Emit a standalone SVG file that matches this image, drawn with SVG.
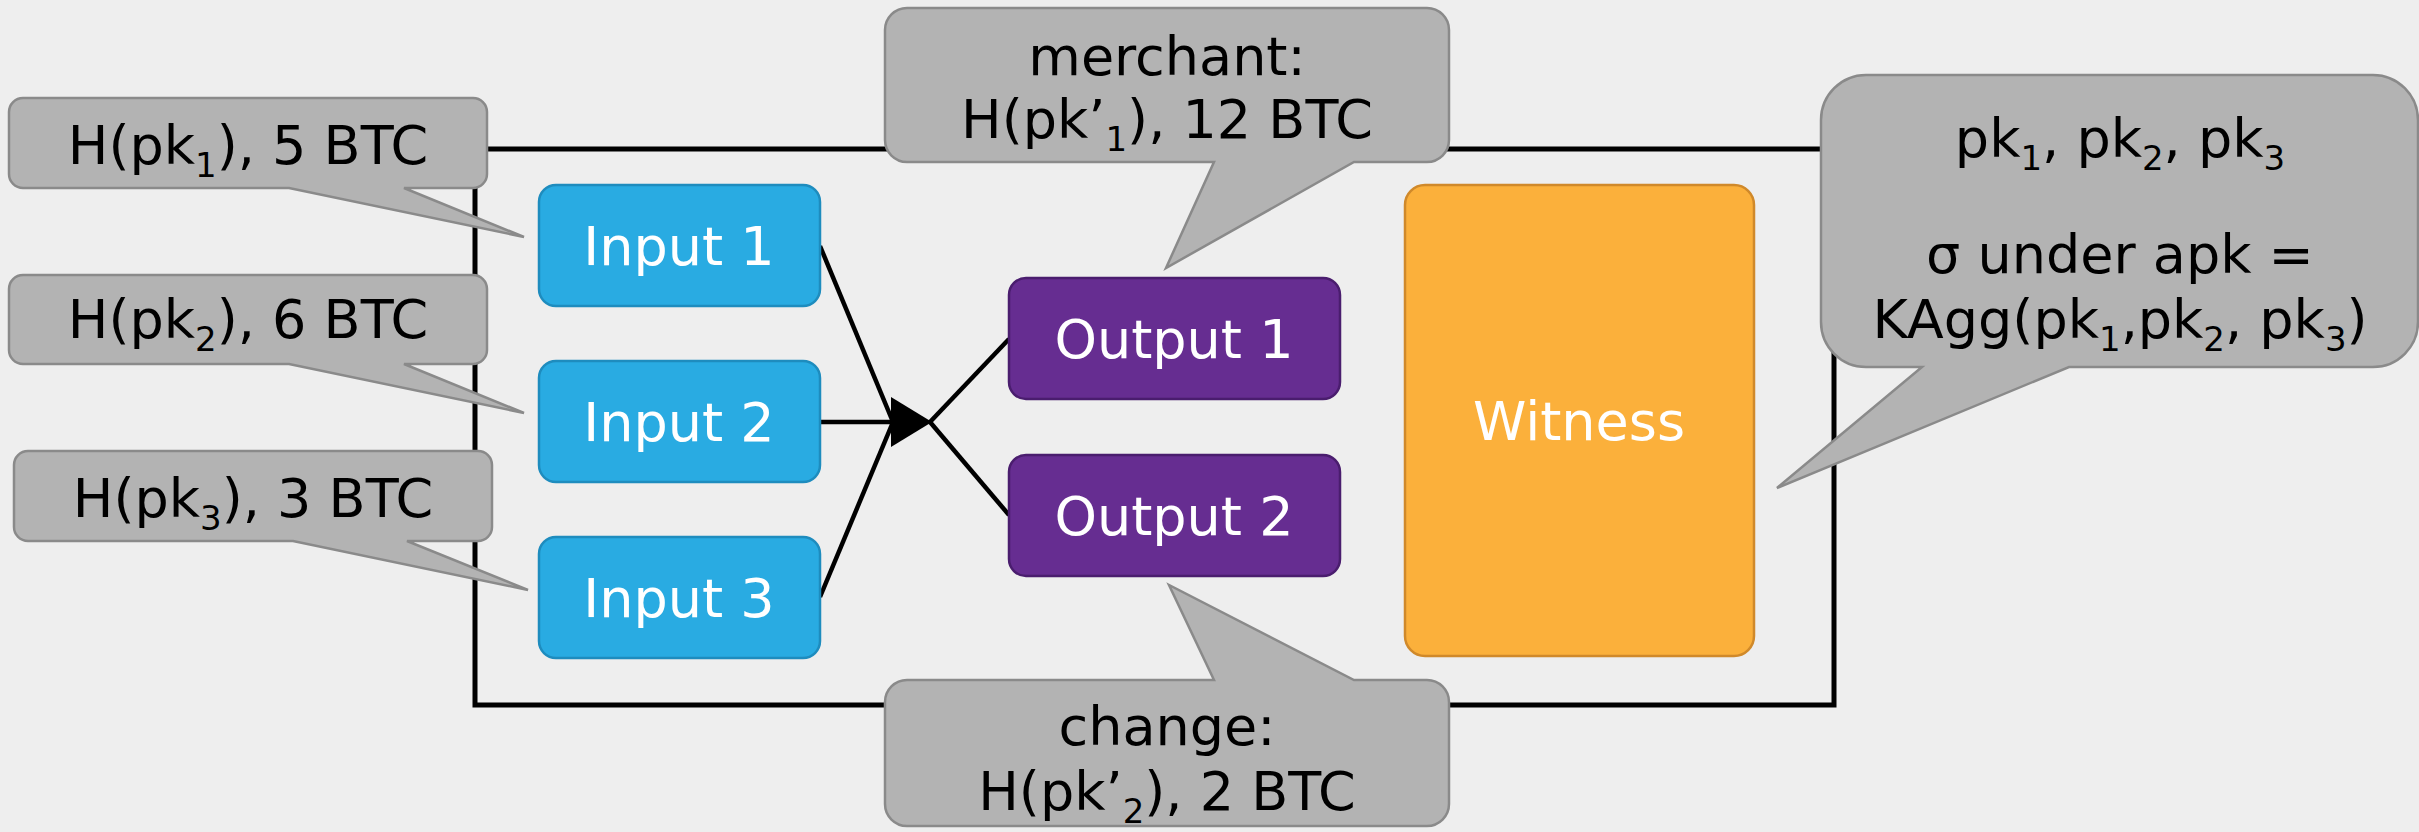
<svg xmlns="http://www.w3.org/2000/svg" width="2419" height="832" viewBox="0 0 2419 832">
<style>
text{font-family:"DejaVu Sans","Verdana","Liberation Sans",sans-serif;font-size:54px;}
.w{fill:#ffffff;text-anchor:middle;}
.b{fill:#000000;text-anchor:middle;}
.sub{font-size:34px;}
.inp{fill:#29ABE2;stroke:#1E8CBE;stroke-width:2.5;}
.out{fill:#662D91;stroke:#4A1D6E;stroke-width:2.5;}
.wit{fill:#FBB03B;stroke:#D0892A;stroke-width:2.5;}
.call{fill:#B3B3B3;stroke:#8A8A8A;stroke-width:2.5;}
.ln{stroke:#000;stroke-width:4.5;fill:none;}
</style>
<rect width="2419" height="832" fill="#EEEEEE"/>
<rect id="frame" x="475" y="149" width="1359" height="556" fill="none" stroke="#000" stroke-width="5"/>
<g id="connectors">
<line class="ln" x1="820" y1="246" x2="893" y2="422"/>
<line class="ln" x1="820" y1="422" x2="893" y2="422"/>
<line class="ln" x1="820" y1="597" x2="893" y2="422"/>
<polygon points="891,397 891,447 932,422" fill="#000"/>
<line class="ln" x1="930" y1="422" x2="1009" y2="339"/>
<line class="ln" x1="930" y1="422" x2="1009" y2="515"/>
</g>
<g id="input1"><rect class="inp" x="539" y="185" width="281" height="121" rx="17"/><text class="w" x="679" y="265">Input 1</text></g>
<g id="input2"><rect class="inp" x="539" y="361" width="281" height="121" rx="17"/><text class="w" x="679" y="441">Input 2</text></g>
<g id="input3"><rect class="inp" x="539" y="537" width="281" height="121" rx="17"/><text class="w" x="679" y="617">Input 3</text></g>
<g id="output1"><rect class="out" x="1009" y="278" width="331" height="121" rx="17"/><text class="w" x="1174" y="358">Output 1</text></g>
<g id="output2"><rect class="out" x="1009" y="455" width="331" height="121" rx="17"/><text class="w" x="1174" y="535">Output 2</text></g>
<g id="witness"><rect class="wit" x="1405" y="185" width="349" height="471" rx="20"/><text class="w" x="1579" y="440">Witness</text></g>
<g id="callout-in1">
<path class="call" d="M23,98 H473 A14,14 0 0 1 487,112 V174 A14,14 0 0 1 473,188 H404 L524,237 L289,188 H23 A14,14 0 0 1 9,174 V112 A14,14 0 0 1 23,98 Z"/>
<text class="b" x="248" y="164">H(pk<tspan class="sub" dy="13">1</tspan><tspan dy="-13">), 5 BTC</tspan></text>
</g>
<g id="callout-in2">
<path class="call" d="M23,275 H473 A14,14 0 0 1 487,289 V350 A14,14 0 0 1 473,364 H404 L524,413 L289,364 H23 A14,14 0 0 1 9,350 V289 A14,14 0 0 1 23,275 Z"/>
<text class="b" x="248" y="338">H(pk<tspan class="sub" dy="13">2</tspan><tspan dy="-13">), 6 BTC</tspan></text>
</g>
<g id="callout-in3">
<path class="call" d="M28,451 H478 A14,14 0 0 1 492,465 V527 A14,14 0 0 1 478,541 H407 L528,590 L293,541 H28 A14,14 0 0 1 14,527 V465 A14,14 0 0 1 28,451 Z"/>
<text class="b" x="253" y="517">H(pk<tspan class="sub" dy="13">3</tspan><tspan dy="-13">), 3 BTC</tspan></text>
</g>
<g id="callout-merchant">
<path class="call" d="M907,8 H1427 A22,22 0 0 1 1449,30 V140 A22,22 0 0 1 1427,162 H1354 L1166,268 L1214,162 H907 A22,22 0 0 1 885,140 V30 A22,22 0 0 1 907,8 Z"/>
<text class="b" x="1167" y="75">merchant:</text>
<text class="b" x="1167" y="138">H(pk’<tspan class="sub" dy="13">1</tspan><tspan dy="-13">), 12 BTC</tspan></text>
</g>
<g id="callout-change">
<path class="call" d="M907,680 H1214 L1169,585 L1354,680 H1427 A22,22 0 0 1 1449,702 V804 A22,22 0 0 1 1427,826 H907 A22,22 0 0 1 885,804 V702 A22,22 0 0 1 907,680 Z"/>
<text class="b" x="1167" y="745">change:</text>
<text class="b" x="1167" y="810">H(pk’<tspan class="sub" dy="13">2</tspan><tspan dy="-13">), 2 BTC</tspan></text>
</g>
<g id="callout-witness">
<path class="call" d="M1866,75 H2373 A45,45 0 0 1 2418,120 V322 A45,45 0 0 1 2373,367 H2069 L1777,488 L1922,367 H1866 A45,45 0 0 1 1821,322 V120 A45,45 0 0 1 1866,75 Z"/>
<text class="b" x="2120" y="157">pk<tspan class="sub" dy="13">1</tspan><tspan dy="-13">, pk</tspan><tspan class="sub" dy="13">2</tspan><tspan dy="-13">, pk</tspan><tspan class="sub" dy="13">3</tspan></text>
<text class="b" x="2120" y="273">σ under apk =</text>
<text class="b" x="2120" y="338">KAgg(pk<tspan class="sub" dy="13">1</tspan><tspan dy="-13">,pk</tspan><tspan class="sub" dy="13">2</tspan><tspan dy="-13">, pk</tspan><tspan class="sub" dy="13">3</tspan><tspan dy="-13">)</tspan></text>
</g>
</svg>
